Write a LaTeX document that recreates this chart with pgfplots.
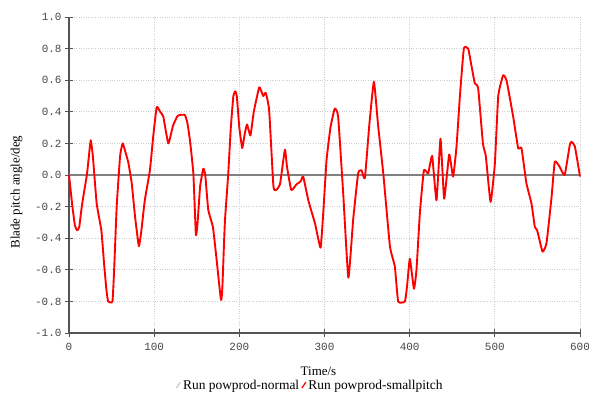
\documentclass[border=0pt]{standalone}
\usepackage{fontspec}
\setmainfont{Liberation Serif}
\setmonofont{Liberation Mono}
\usepackage{pgfplots}
\pgfplotsset{compat=1.18}
\definecolor{gridc}{RGB}{205,205,205}
\definecolor{axc}{RGB}{85,85,85}
\definecolor{tickc}{RGB}{70,70,70}
\begin{document}
\begin{tikzpicture}[x=1bp,y=1bp]
\begin{axis}[
  scale only axis,
  width=511bp, height=316bp,
  xmin=0, xmax=600, ymin=-1, ymax=1,
  xtick={0,100,...,600},
  ytick={-1,-0.8,...,1.01},
  axis lines*=left,
  axis line style={axc, line width=1.1pt},
  tick style={axc, line width=0.9pt},
  major tick length=8bp,
  tick align=center,
  grid=major,
  major grid style={gridc, dotted, line width=0.9pt},
  /pgf/number format/assume math mode=true,
  yticklabel style={/pgf/number format/.cd, fixed, fixed zerofill, precision=1},
  ticklabel style={font=\ttfamily\fontsize{11}{13}\selectfont, text=tickc},
  xticklabel style={yshift=-3bp},
  xlabel={Time/s},
  ylabel={Blade pitch angle/deg},
  label style={font=\fontsize{13}{15}\selectfont},
  xlabel style={yshift=-9bp, xshift=-6bp},
  ylabel style={at={(ticklabel cs:0.446)}, yshift=6bp},
  legend style={at={(0.472,-0.165)}, anchor=center, draw=none, fill=none,
    legend columns=2, font=\fontsize{13.5}{15}\selectfont,
    /tikz/every even column/.append style={column sep=0pt},
    inner sep=0pt},
  legend cell align=left,
  legend image code/.code={\draw[#1, line width=1.3pt] (2pt,-3pt) -- (6pt,3pt);},
  clip=false,
]
\addplot[gray, line width=1.2pt, forget plot] coordinates {(0,0) (600,0)};
\addlegendimage{gridc}
\addlegendentry{Run powprod-normal}
\addplot[red, line width=1.9pt, line join=round, smooth, tension=0.25] coordinates {
(0,0) (4,-0.2) (7,-0.32) (9.5,-0.35) (12,-0.33) (15,-0.2) (17.6,-0.11) (21,0) (23,0.1) (25.5,0.22) (28,0.12) (32.5,-0.18) (38,-0.35) (41,-0.55) (44,-0.73) (46,-0.80) (51,-0.80) (53,-0.6) (56,-0.2) (60,0.12) (63,0.20) (66,0.15) (69.6,0.08) (73.6,-0.05) (77.5,-0.26) (82,-0.45) (85,-0.35) (89,-0.16) (95,0.03) (99,0.25) (103,0.43) (107,0.40) (110.7,0.37) (116.6,0.20) (122,0.31) (127,0.37) (130,0.38) (136,0.38) (139,0.33) (142,0.22) (146,0.01) (149,-0.38) (151,-0.3) (154,-0.07) (157.7,0.04) (160,0) (163.5,-0.22) (169,-0.33) (173,-0.52) (178.4,-0.79) (180,-0.72) (183,-0.30) (187,0.01) (190,0.3) (193,0.50) (195.2,0.53) (197,0.5) (200,0.3) (203.4,0.17) (206,0.25) (209,0.32) (213,0.25) (217,0.4) (223.4,0.555) (228,0.50) (231,0.52) (235,0.41) (240,-0.07) (243,-0.095) (247.7,-0.06) (253.5,0.16) (256,0.05) (261,-0.095) (267,-0.06) (272,-0.04) (275,-0.01) (281,-0.16) (289,-0.31) (295.4,-0.46) (299,-0.2) (302.4,0.095) (307,0.3) (312,0.42) (316,0.37) (322,-0.12) (328,-0.65) (333.7,-0.28) (339.5,0.01) (343.5,0.03) (347.4,-0.02) (352.5,0.31) (358,0.59) (363,0.31) (369,0.01) (376.8,-0.45) (382.6,-0.58) (386.5,-0.80) (394.4,-0.80) (397,-0.7) (400.2,-0.53) (405,-0.72) (408,-0.6) (412,-0.24) (416.7,0.03) (421.7,0.01) (426.4,0.12) (431.5,-0.16) (436.2,0.23) (440.5,-0.15) (446.4,0.13) (451,-0.01) (455,0.18) (459,0.50) (463.6,0.80) (468.7,0.80) (472.6,0.69) (476.5,0.58) (480.4,0.55) (486,0.20) (489.4,0.12) (495,-0.17) (500,0.07) (504,0.50) (509.7,0.63) (513.7,0.60) (521.5,0.37) (527.4,0.17) (531.3,0.17) (537,-0.05) (543,-0.18) (547,-0.33) (549.7,-0.35) (556,-0.485) (560.7,-0.43) (566.6,-0.14) (570.4,0.085) (576.3,0.05) (582,0.0) (588,0.19) (590,0.21) (594,0.18) (600,-0.01)
};
\addlegendentry{Run powprod-smallpitch}
\end{axis}
\pgfresetboundingbox
\path[use as bounding box] (current axis.south west) ++(-69bp,-66bp) rectangle ++(589bp,399bp);
\end{tikzpicture}
\end{document}
